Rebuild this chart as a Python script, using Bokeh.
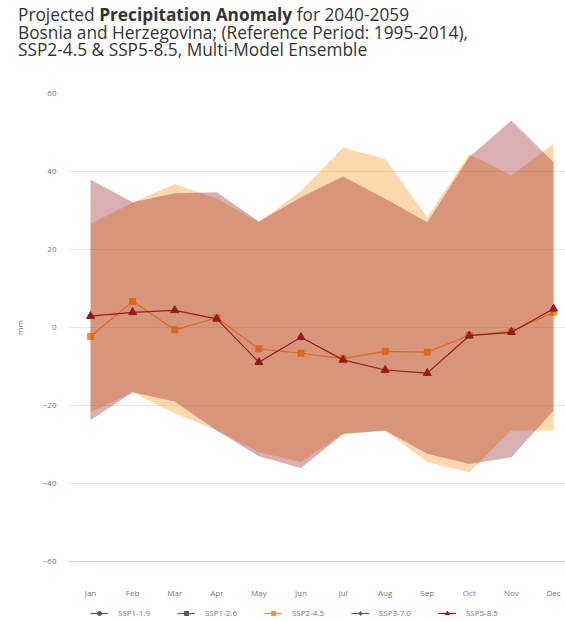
from bokeh.plotting import figure
from bokeh.models import (ColumnDataSource, FixedTicker, Legend, LegendItem, Range1d, Div)
from bokeh.layouts import column
from bokeh.embed import file_html
from bokeh.resources import INLINE

months = ["Jan", "Feb", "Mar", "Apr", "May", "Jun", "Jul", "Aug", "Sep", "Oct", "Nov", "Dec"]
ssp245_median = [-2.3, 6.7, -0.6, 2.5, -5.5, -6.6, -8.0, -6.1, -6.3, -2.0, -1.0, 3.9]
ssp585_median = [2.9, 3.9, 4.4, 2.2, -8.9, -2.5, -8.3, -10.9, -11.7, -2.1, -1.2, 4.8]
ssp245_upper = [26.6, 32.0, 36.8, 33.0, 27.0, 35.0, 46.1, 43.2, 28.3, 44.5, 39.0, 47.1]
ssp245_lower = [-21.7, -16.6, -22.0, -26.4, -32.0, -34.5, -27.3, -26.4, -34.5, -37.1, -26.4, -26.4]
ssp585_upper = [37.9, 32.1, 34.4, 34.7, 27.2, 33.4, 38.7, 33.0, 27.0, 43.7, 53.1, 42.4]
ssp585_lower = [-23.8, -16.6, -19.0, -26.4, -33.0, -36.0, -27.3, -26.4, -32.4, -35.0, -33.3, -21.3]
y_ticks = [-60, -40, -20, 0, 20, 40, 60]
legend_names = ["SSP1-1.9", "SSP1-2.6", "SSP2-4.5", "SSP3-7.0", "SSP5-8.5"]
legend_markers = ["circle", "square", "square", "diamond", "triangle"]
legend_active = [False, False, True, False, True]

C245 = "#f79420"
C585 = "#951b1e"
GREY = "#5a5a5a"
legend_colors = [GREY, GREY, C245, GREY, C585]

x = list(range(len(months)))
src = ColumnDataSource(dict(x=x, m245=ssp245_median, m585=ssp585_median,
                            u245=ssp245_upper, l245=ssp245_lower,
                            u585=ssp585_upper, l585=ssp585_lower))

title = Div(text=("Projected <b>Precipitation</b> <b>Anomaly</b> for 2040-2059<br>"
                  "Bosnia and Herzegovina; (Reference Period: 1995-2014),<br>"
                  "SSP2-4.5 &amp; SSP5-8.5, Multi-Model Ensemble"),
            width=565, height=60, margin=0,
            styles={"font-family": "Open Sans", "font-size": "17.3px", "line-height": "17.5px",
                    "color": "#333333", "padding-left": "18px", "padding-top": "6px",
                    "white-space": "nowrap", "box-sizing": "border-box"})

p = figure(width=565, height=541, output_backend="svg", toolbar_location=None,
           x_range=Range1d(-0.523, 11.285), y_range=Range1d(-60, 60),
           min_border_left=68, min_border_right=0, min_border_top=33, min_border_bottom=40)
p.outline_line_color = None
p.background_fill_color = "white"

# bands and lines
p.varea(x="x", y1="l245", y2="u245", source=src, fill_color=C245, fill_alpha=0.37)
p.line(x="x", y="m245", source=src, line_color=C245, line_width=1.2)
p.scatter(x="x", y="m245", source=src, marker="square", size=6,
          fill_color=C245, line_color=C245)
p.varea(x="x", y1="l585", y2="u585", source=src, fill_color=C585, fill_alpha=0.35)
p.line(x="x", y="m585", source=src, line_color=C585, line_width=1.2)
p.scatter(x="x", y="m585", source=src, marker="triangle", size=8,
          fill_color=C585, line_color=C585)

# axes
p.xaxis.ticker = FixedTicker(ticks=x)
p.xaxis.major_label_overrides = {i: m for i, m in enumerate(months)}
p.xaxis.axis_line_color = "#ccd6eb"
p.xaxis.major_tick_line_color = None
p.xaxis.minor_tick_line_color = None
p.xaxis.major_tick_out = 0
p.xaxis.major_tick_in = 0
p.xaxis.major_label_standoff = 25
p.xaxis.major_label_text_font = "Open Sans"
p.xaxis.major_label_text_font_size = "8px"
p.xaxis.major_label_text_color = "#777777"

p.yaxis.ticker = FixedTicker(ticks=y_ticks)
p.yaxis.axis_line_color = None
p.yaxis.major_tick_line_color = None
p.yaxis.minor_tick_line_color = None
p.yaxis.major_tick_out = 0
p.yaxis.major_tick_in = 0
p.yaxis.major_label_standoff = 12
p.yaxis.major_label_text_font = "Open Sans"
p.yaxis.major_label_text_font_size = "8px"
p.yaxis.major_label_text_color = "#777777"
p.yaxis.axis_label = "mm"
p.yaxis.axis_label_text_font = "Open Sans"
p.yaxis.axis_label_text_font_size = "8px"
p.yaxis.axis_label_text_font_style = "normal"
p.yaxis.axis_label_text_color = "#777777"
p.yaxis.axis_label_standoff = 15

p.xgrid.grid_line_color = None
p.ygrid.grid_line_color = "#e8e8e8"
p.ygrid.ticker = FixedTicker(ticks=[-40, -20, 0, 20, 40, 60])

# legend row (separate small figure; its frame is aligned with the main frame)
lg = figure(width=565, height=20, output_backend="svg", toolbar_location=None,
            x_range=Range1d(0, 1), y_range=Range1d(0, 1),
            x_axis_type=None, y_axis_type=None,
            min_border_left=68, min_border_right=0, min_border_top=0, min_border_bottom=0)
lg.outline_line_color = None
lg.xgrid.visible = False
lg.ygrid.visible = False
nan_src = ColumnDataSource(dict(x=[float("nan")], y=[float("nan")]))
items = []
for name, mk, col, act in zip(legend_names, legend_markers, legend_colors, legend_active):
    rl = lg.line(x="x", y="y", source=nan_src, line_color=col, line_width=1.2, visible=act)
    rs = lg.scatter(x="x", y="y", source=nan_src, marker=mk,
                    size=8 if mk == "triangle" else (6 if mk == "square" else 7),
                    fill_color=col, line_color=col, visible=act)
    items.append(LegendItem(label=name, renderers=[rl, rs]))
legend = Legend(items=items, orientation="horizontal", location=(22, 3),
                click_policy="hide", inactive_fill_alpha=0,
                label_text_font="Open Sans", label_text_font_size="8px",
                label_text_color="#777777", glyph_width=18, glyph_height=10,
                label_standoff=10, spacing=27, padding=0, margin=0,
                border_line_color=None, background_fill_alpha=0, label_height=10)
lg.add_layout(legend, "center")

layout = column(title, p, lg, spacing=0)
open("out.html", "w").write(file_html(layout, INLINE))
